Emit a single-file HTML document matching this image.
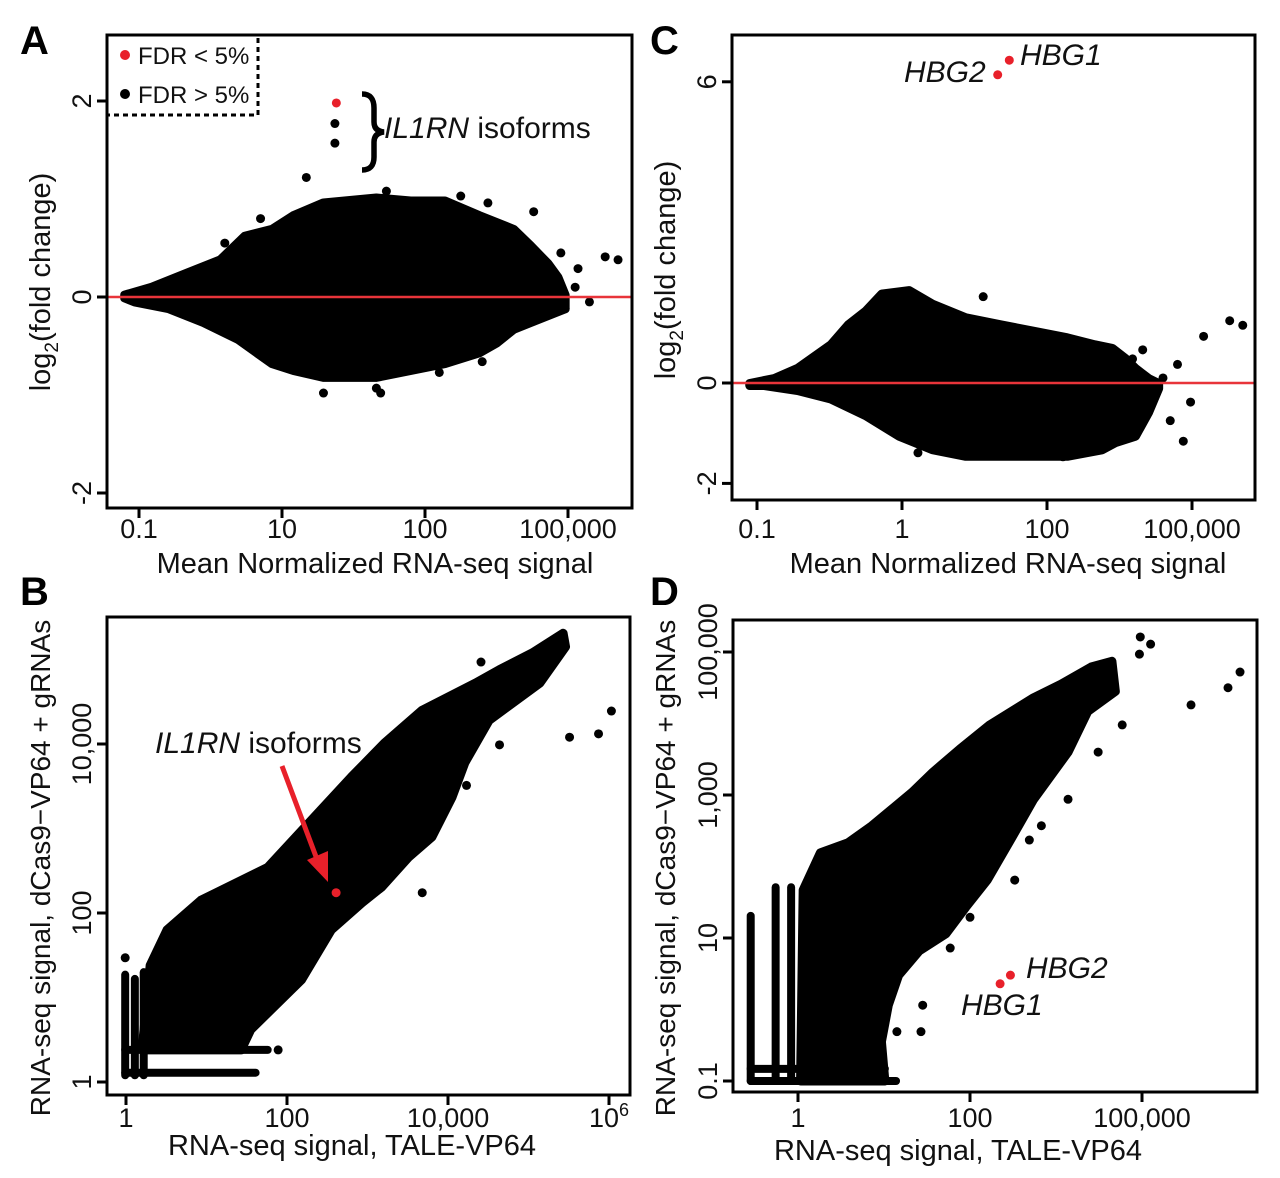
<!DOCTYPE html>
<html><head><meta charset="utf-8">
<style>
html,body{margin:0;padding:0;background:#fff;}
svg{display:block;font-family:"Liberation Sans",Arial,sans-serif;}
</style></head>
<body>
<svg id="fig" width="1280" height="1178" viewBox="0 0 1280 1178"></svg>
<script>
// ---------- DATA ----------
const aUpperX=[-0.10,0.09,0.33,0.57,0.74,0.93,1.08,1.29,1.66,1.90,2.14,2.38,2.62,2.74,2.86,2.93,2.98];
const aUpperY=[0.02,0.10,0.24,0.38,0.62,0.69,0.83,0.96,1.01,0.98,0.98,0.83,0.69,0.52,0.34,0.20,0.02];
const aLowerX=[2.98,2.74,2.62,2.50,2.38,2.14,1.90,1.66,1.29,1.08,0.93,0.69,0.45,0.21,-0.03,-0.10];
const aLowerY=[-0.12,-0.26,-0.33,-0.47,-0.57,-0.68,-0.75,-0.82,-0.82,-0.75,-0.68,-0.43,-0.26,-0.12,-0.05,-0.01];
const aOutX=[1.17,3.26,3.35,3.07,2.88,2.98,2.76,1.29,1.66,1.69,2.10,2.40,2.25,2.44,1.73,1.37,1.37,3.05,3.15,2.95,0.60,0.85];
const aOutY=[1.22,0.41,0.38,0.29,-0.12,-0.12,0.87,-0.98,-0.93,-0.98,-0.77,-0.66,1.03,0.96,1.08,1.77,1.57,0.10,-0.05,0.45,0.55,0.80];
const aSigX=[1.38];
const aSigY=[1.98];
const aXTicks=["0.1","10","100","100,000"];
const aYTicks=["-2","0","2"];
// Panel C
const cUpperX=[-0.05,0.12,0.28,0.51,0.63,0.75,0.86,1.05,1.21,1.44,1.68,1.91,2.14,2.33,2.45,2.54,2.61,2.70,2.77];
const cUpperY=[-0.01,0.09,0.29,0.76,1.16,1.43,1.77,1.84,1.57,1.30,1.16,1.03,0.90,0.76,0.69,0.49,0.29,0.09,-0.01];
const cLowerX=[2.77,2.70,2.61,2.47,2.38,2.14,1.91,1.68,1.44,1.21,0.98,0.75,0.51,0.28,0.05,-0.05];
const cLowerY=[-0.11,-0.59,-1.06,-1.19,-1.33,-1.46,-1.46,-1.46,-1.46,-1.33,-1.06,-0.65,-0.32,-0.15,-0.05,-0.05];
const cOutX=[1.56,3.26,3.35,3.08,2.90,2.99,2.94,1.11,2.11,2.66,2.59,2.85,2.80];
const cOutY=[1.72,1.24,1.15,0.93,0.37,-0.38,-1.16,-1.39,-1.47,0.66,0.48,-0.75,0.10];
const cSigX=[1.66,1.74];
const cSigY=[6.14,6.43];
const cXTicks=["0.1","1","100","100,000"];
const cYTicks=["-2","0","6"];
const cYTickVals=[-2,0,6];
// Panel B
const bUpperX=[0.30,0.51,0.93,1.76,2.80,3.21,3.68,4.34,4.64,5.05,5.43];
const bUpperY=[1.38,1.80,2.15,2.54,3.61,4.01,4.40,4.72,4.88,5.08,5.31];
const bLowerX=[5.46,5.14,4.51,4.21,4.05,3.80,3.51,3.18,2.93,2.55,2.18,1.55,1.43,0.20];
const bLowerY=[5.15,4.72,4.28,3.78,3.37,2.90,2.66,2.31,2.12,1.80,1.21,0.62,0.38,0.38];
const bColX=[-0.01,0.11,0.22];
const bColTop=[1.27,1.22,1.30];
const bRowY=[0.38,0.11];
const bRowEnd=[1.76,1.61];
const bOutX=[-0.01,1.89,4.41,6.03,5.87,5.51,4.64,3.68,4.23];
const bOutY=[1.47,0.38,4.97,4.39,4.12,4.08,3.99,2.24,3.51];
const bSigX=[2.61];
const bSigY=[2.24];
const bXTicks=["1","100","10,000","10"];
const bYTicks=["1","100","10,000"];
// Panel D
const dUpperX=[0.06,0.26,0.58,0.86,1.33,1.57,1.88,2.23,2.74,3.06,3.41,3.65];
const dUpperY=[1.67,2.19,2.33,2.57,3.04,3.32,3.64,3.98,4.36,4.55,4.79,4.87];
const dLowerX=[3.69,3.37,3.14,2.74,2.47,2.20,1.95,1.72,1.41,1.17,1.05,0.97,1.01,0.03];
const dLowerY=[4.45,4.17,3.60,2.94,2.37,1.81,1.43,1.06,0.82,0.48,0.06,-0.45,-1.0,-1.0];
const dColX=[-0.55,-0.26,-0.08];
const dColTop=[1.31,1.71,1.71];
const dRowY=[-1.0,-0.83];
const dRowEnd=[1.14,1.01];
const dOutX=[3.98,4.10,3.97,5.14,5.00,4.57,3.77,3.49,3.14,2.83,2.69,2.52,2.00,1.77,1.45,1.43,1.15];
const dOutY=[5.21,5.11,4.97,4.72,4.50,4.26,3.98,3.60,2.94,2.57,2.37,1.81,1.29,0.86,0.06,-0.31,-0.31];
const dSigX=[2.35,2.47];
const dSigY=[0.36,0.48];
const dXTicks=["1","100","100,000"];
const dYTicks=["0.1","10","1,000","100,000"];

// ---------- DRAW ----------
const NS="http://www.w3.org/2000/svg";
const svg=document.getElementById('fig');
function mk(tag,attrs,parent){const e=document.createElementNS(NS,tag);for(const k in attrs)e.setAttribute(k,attrs[k]);(parent||svg).appendChild(e);return e;}
function txt(s,attrs,parent){const e=mk('text',attrs,parent);e.textContent=s;return e;}

function panel(cfg){
  const g=mk('g',{});
  
  
  const X=cfg.sx,Y=cfg.sy;
  let pts=[];
  cfg.ux.forEach((v,i)=>pts.push(X(v)+','+Y(cfg.uy[i])));
  cfg.lx.forEach((v,i)=>pts.push(X(v)+','+Y(cfg.ly[i])));
  const poly=mk('polygon',{points:pts.join(' '),fill:'#000',stroke:'#000','stroke-width':9,'stroke-linejoin':'round'},g);
  
  
  (cfg.colX||[]).forEach((c,i)=>{
    const l=mk('line',{x1:X(c),x2:X(c),y1:Y(cfg.colBottom),y2:Y(cfg.colTop[i]),stroke:'#000','stroke-width':8,'stroke-linecap':'round'},g);
    
    
  });
  (cfg.rowY||[]).forEach((r,i)=>{
    const l=mk('line',{x1:X(cfg.rowStart),x2:X(cfg.rowEnd[i]),y1:Y(r),y2:Y(r),stroke:'#000','stroke-width':8,'stroke-linecap':'round'},g);
    
    
  });
  cfg.ox.forEach((v,i)=>{
    const c=mk('circle',{cx:X(v),cy:Y(cfg.oy[i]),r:4.5,fill:'#000'},g);
    
    
  });
  if(cfg.hline){
    const l=mk('line',{x1:cfg.box[0],x2:cfg.box[2],y1:Y(0),y2:Y(0),stroke:'#e8343a','stroke-width':2.5},g);
    
    
  }
  cfg.sx2.forEach((v,i)=>{
    const c=mk('circle',{cx:X(v),cy:Y(cfg.sy2[i]),r:4.5,fill:'#e8202a'},g);
    
    
  });
  const [x0,y0,x1,y1]=cfg.box;
  const b=mk('rect',{x:x0,y:y0,width:x1-x0,height:y1-y0,fill:'none',stroke:'#000','stroke-width':3},g);
  
  
  cfg.xt.forEach((lab,i)=>{
    const xv=X(cfg.xtv[i]);
    mk('line',{x1:xv,x2:xv,y1:y1,y2:y1+10,stroke:'#000','stroke-width':3},g);
    const t=txt(lab,{x:xv,y:cfg.xtBase,'text-anchor':'middle','font-size':27,fill:'#111'},g);
    
    
    if(cfg.sup&&i===cfg.xt.length-1){const s=mk('tspan',{dy:-11,'font-size':18},t);s.textContent=cfg.sup;}
  });
  cfg.yt.forEach((lab,i)=>{
    const yv=Y(cfg.ytv[i]);
    mk('line',{x1:x0-10,x2:x0,y1:yv,y2:yv,stroke:'#000','stroke-width':3},g);
    const t=txt(lab,{x:0,y:0,'text-anchor':'middle','font-size':27,fill:'#111',transform:`translate(${x0-16},${yv}) rotate(-90)`},g);
    
    
  });
  return g;
}

panel({name:'panel-a',box:[107,35,632,508],sx:u=>139+143*u,sy:v=>297-98*v,
  ux:aUpperX,uy:aUpperY,lx:aLowerX,ly:aLowerY,ox:aOutX,oy:aOutY,sx2:aSigX,sy2:aSigY,hline:true,
  xt:aXTicks,xtv:[0,1,2,3],xtBase:538,yt:aYTicks,ytv:[-2,0,2]});
panel({name:'panel-c',box:[732,35,1255,500],sx:u=>757+145*u,sy:v=>383-50.2*v,
  ux:cUpperX,uy:cUpperY,lx:cLowerX,ly:cLowerY,ox:cOutX,oy:cOutY,sx2:cSigX,sy2:cSigY,hline:true,
  xt:cXTicks,xtv:[0,1,2,3],xtBase:538,yt:cYTicks,ytv:cYTickVals});
panel({name:'panel-b',box:[107,617,630,1095],sx:u=>126+80.5*u,sy:v=>1082-84.5*v,
  ux:bUpperX,uy:bUpperY,lx:bLowerX,ly:bLowerY,ox:bOutX,oy:bOutY,sx2:bSigX,sy2:bSigY,
  colX:bColX,colTop:bColTop,colBottom:0.08,rowY:bRowY,rowStart:-0.01,rowEnd:bRowEnd,
  xt:bXTicks,xtv:[0,2,4,6],xtBase:1127,sup:'6',yt:bYTicks,ytv:[0,2,4]});
panel({name:'panel-d',box:[733,620,1257,1092],sx:u=>798+86*u,sy:v=>1081-71.5*(v+1),
  ux:dUpperX,uy:dUpperY,lx:dLowerX,ly:dLowerY,ox:dOutX,oy:dOutY,sx2:dSigX,sy2:dSigY,
  colX:dColX,colTop:dColTop,colBottom:-1.0,rowY:dRowY,rowStart:-0.55,rowEnd:dRowEnd,
  xt:dXTicks,xtv:[0,2,4],xtBase:1127,yt:dYTicks,ytv:[-1,1,3,5]});

// ---------- ANNOTATIONS ----------
function label(s,attrs,name){const t=txt(s,attrs);return t;}
label('A',{x:20,y:54,'font-size':40,'font-weight':'bold'},'panel-letter-a');
label('B',{x:20,y:605,'font-size':40,'font-weight':'bold'},'panel-letter-b');
label('C',{x:650,y:54,'font-size':40,'font-weight':'bold'},'panel-letter-c');
label('D',{x:650,y:605,'font-size':40,'font-weight':'bold'},'panel-letter-d');

label('Mean Normalized RNA-seq signal',{x:375,y:573,'text-anchor':'middle','font-size':29,fill:'#111'},'x-axis-title-a');
label('Mean Normalized RNA-seq signal',{x:1008,y:573,'text-anchor':'middle','font-size':29,fill:'#111'},'x-axis-title-c');
label('RNA-seq signal, TALE-VP64',{x:352,y:1155,'text-anchor':'middle','font-size':29,fill:'#111'},'x-axis-title-b');
label('RNA-seq signal, TALE-VP64',{x:958,y:1160,'text-anchor':'middle','font-size':29,fill:'#111'},'x-axis-title-d');

const ya=label('',{x:0,y:0,'text-anchor':'middle','font-size':29,fill:'#111',transform:'translate(50,282) rotate(-90)'},'y-axis-title-a');
ya.innerHTML='log<tspan font-size="19" dy="8">2</tspan><tspan dy="-8">(fold change)</tspan>';
const yc=label('',{x:0,y:0,'text-anchor':'middle','font-size':29,fill:'#111',transform:'translate(675,270) rotate(-90)'},'y-axis-title-c');
yc.innerHTML='log<tspan font-size="19" dy="8">2</tspan><tspan dy="-8">(fold change)</tspan>';
label('RNA-seq signal, dCas9\u2212VP64 + gRNAs',{x:0,y:0,'text-anchor':'middle','font-size':28,fill:'#111',transform:'translate(50,868) rotate(-90)'},'y-axis-title-b');
label('RNA-seq signal, dCas9\u2212VP64 + gRNAs',{x:0,y:0,'text-anchor':'middle','font-size':28,fill:'#111',transform:'translate(675,868) rotate(-90)'},'y-axis-title-d');

const lg=mk('g',{});


mk('path',{d:'M258,38 V115 H107',fill:'none',stroke:'#000','stroke-width':3,'stroke-dasharray':'5,4'},lg);
mk('circle',{cx:125,cy:55,r:5,fill:'#e8202a'},lg);
mk('circle',{cx:125,cy:94,r:5,fill:'#000'},lg);
const l1=txt('FDR < 5%',{x:138,y:64,'font-size':24,fill:'#111'},lg);


const l2=txt('FDR > 5%',{x:138,y:103,'font-size':24,fill:'#111'},lg);



const br=mk('path',{d:'M362,94 Q374,94 374,108 L374,122 Q374,131 384,132 Q374,133 374,142 L374,157 Q374,170 362,170',fill:'none',stroke:'#000','stroke-width':5.5});


const t1=label('',{x:384,y:138,'font-size':30,fill:'#111'},'il1rn-label-a');
t1.innerHTML='<tspan font-style="italic">IL1RN</tspan> isoforms';

label('HBG2',{x:904,y:82,'font-size':30,'font-style':'italic',fill:'#111'},'hbg2-label-c');
label('HBG1',{x:1020,y:65,'font-size':30,'font-style':'italic',fill:'#111'},'hbg1-label-c');

const t2=label('',{x:155,y:753,'font-size':30,fill:'#111'},'il1rn-label-b');
t2.innerHTML='<tspan font-style="italic">IL1RN</tspan> isoforms';
const ar=mk('line',{x1:282,y1:766,x2:318,y2:862,stroke:'#e8202a','stroke-width':5});


const ah=mk('polygon',{points:'307,860 328,882 328,851',fill:'#e8202a'});



label('HBG2',{x:1026,y:978,'font-size':30,'font-style':'italic',fill:'#111'},'hbg2-label-d');
label('HBG1',{x:961,y:1015,'font-size':30,'font-style':'italic',fill:'#111'},'hbg1-label-d');
</script>
</body></html>
